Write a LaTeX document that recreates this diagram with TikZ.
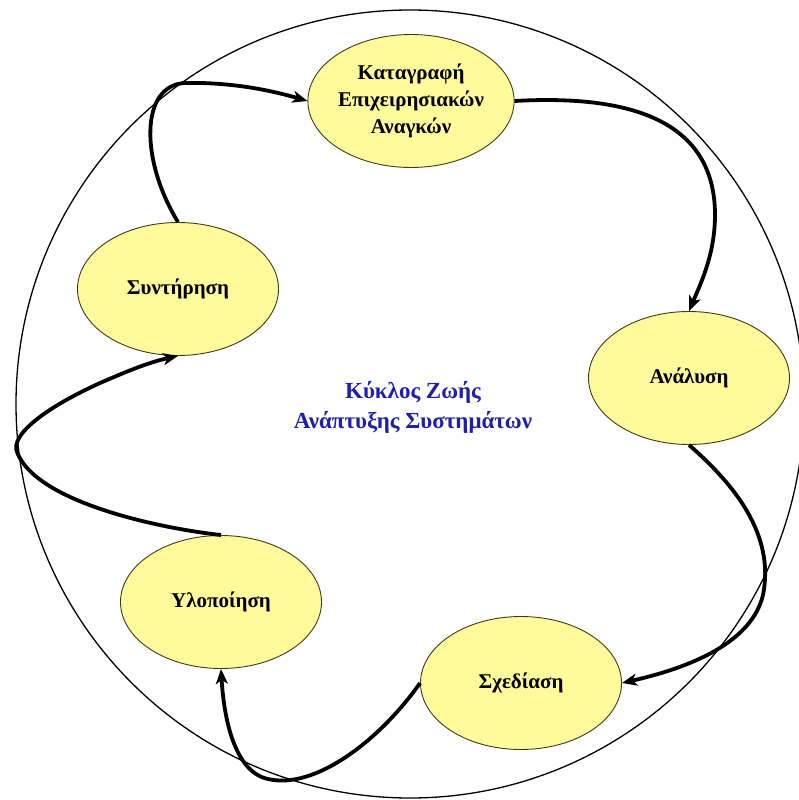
\documentclass[tikz,border=0pt]{standalone}
\usepackage{fontspec}
\setmainfont{Liberation Serif}
\usetikzlibrary{shapes.geometric,arrows.meta}
\definecolor{phasefill}{RGB}{255,250,155}
\definecolor{phaseedge}{RGB}{60,60,20}
\definecolor{titleblue}{RGB}{30,30,175}
\tikzset{
  phase/.style={ellipse, draw=phaseedge, line width=0.9pt, fill=phasefill,
    minimum width=201pt, minimum height=133pt, inner sep=0pt,
    align=center, font=\fontsize{21}{27}\selectfont\bfseries},
  flow/.style={line width=3.8pt, -{Stealth[length=15pt,width=12pt,inset=4pt]}},
  ringstyle/.style={circle, draw, line width=1.3pt, minimum size=788pt, inner sep=0pt},
}
\begin{document}
\begin{tikzpicture}[x=1pt,y=-1pt]
\useasboundingbox (0,0) rectangle (798,800);
\node[ringstyle] (ring) at (410,404) {};
\node[phase] (kat) at (411,101) {Καταγραφή\\Επιχειρησιακών\\Αναγκών};
\node[phase] (ana) at (689,378) {Ανάλυση};
\node[phase] (sch) at (521,683) {Σχεδίαση};
\node[phase] (ylo) at (221,602) {Υλοποίηση};
\node[phase] (syn) at (178,289) {Συντήρηση};
\node[align=center, text=titleblue, font=\fontsize{23}{30}\selectfont\bfseries] (title) at (413,407) {Κύκλος Ζωής\\Ανάπτυξης Συστημάτων};
\coordinate (t1) at (185,83);
\coordinate (t2) at (715,215);
\coordinate (t3) at (763,595);
\coordinate (t4) at (268,779);
\coordinate (t5) at (17,452);
\draw[flow] (syn.north) .. controls (140,160) and (140,85) .. (t1) .. controls (230,82) and (270,90) .. (kat.west);
\draw[flow] (kat.east) .. controls (620,95) and (715,115) .. (t2) .. controls (715,255) and (700,285) .. (ana.north);
\draw[flow] (ana.south) .. controls (735,485) and (775,535) .. (t3) .. controls (750,650) and (670,672) .. (sch.east);
\draw[flow] (sch.west) .. controls (380,740) and (315,790) .. (t4) .. controls (235,772) and (224,720) .. (ylo.south);
\draw[flow] (ylo.north) .. controls (150,527) and (35,500) .. (t5) .. controls (10,435) and (45,408) .. (100,383) .. controls (130,370) and (150,362) .. (syn.south);
\end{tikzpicture}
\end{document}
